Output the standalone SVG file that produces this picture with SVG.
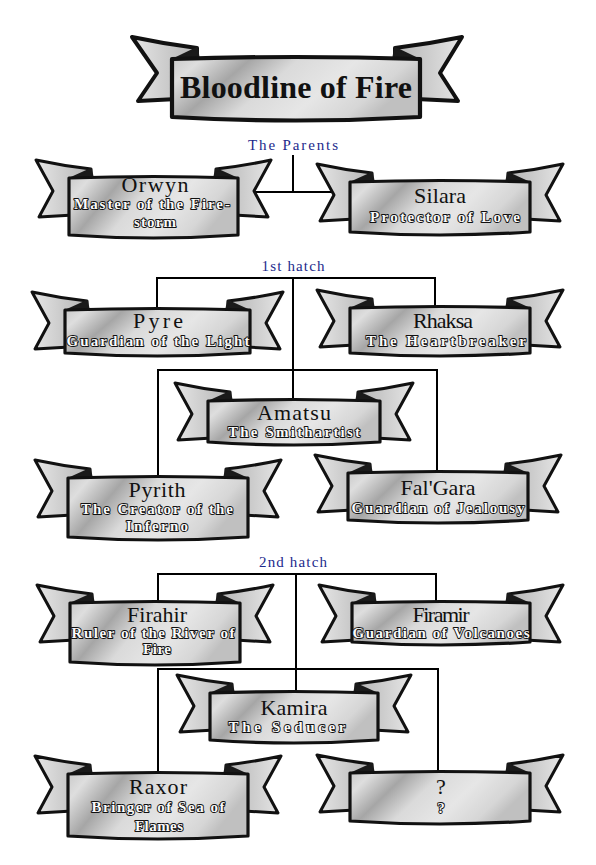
<svg xmlns="http://www.w3.org/2000/svg" width="596" height="865" viewBox="0 0 596 865">
<defs>
<linearGradient id="gp" x1="0" y1="0" x2="1" y2="0.3">
<stop offset="0" stop-color="#c9c9c9"/>
<stop offset="0.12" stop-color="#dedede"/>
<stop offset="0.3" stop-color="#a6a6a6"/>
<stop offset="0.48" stop-color="#dadada"/>
<stop offset="0.7" stop-color="#e6e6e6"/>
<stop offset="0.9" stop-color="#d6d6d6"/>
<stop offset="1" stop-color="#c0c0c0"/>
</linearGradient>
<linearGradient id="gl" x1="0" y1="0" x2="1" y2="0">
<stop offset="0" stop-color="#e6e6e6"/>
<stop offset="1" stop-color="#b4b4b4"/>
</linearGradient>
<linearGradient id="gr" x1="1" y1="0" x2="0" y2="0">
<stop offset="0" stop-color="#e6e6e6"/>
<stop offset="1" stop-color="#b4b4b4"/>
</linearGradient>
<style>
.tl{fill:url(#gl);stroke:#111;stroke-width:3;stroke-linejoin:round}
.tr{fill:url(#gr);stroke:#111;stroke-width:3;stroke-linejoin:round}
.fold{fill:#1a1a1a;stroke:#1a1a1a;stroke-width:2;stroke-linejoin:round}
.panel{fill:url(#gp);stroke:#111;stroke-width:3.2;stroke-linejoin:round}
.big .tl,.big .tr{stroke-width:4}
.big .panel{stroke-width:4.2}
.title{font-family:"Liberation Serif","DejaVu Serif",serif;font-weight:bold;font-size:32px;fill:#111;text-anchor:middle}
.name{font-family:"Liberation Serif","DejaVu Serif",serif;font-size:22px;fill:#111;text-anchor:middle}
.sub{font-family:"Liberation Serif","DejaVu Serif",serif;font-weight:bold;font-size:15px;fill:#fafafa;stroke:#111;stroke-width:1.9;paint-order:stroke;stroke-linejoin:round;text-anchor:middle}
.sect{font-family:"Liberation Serif","DejaVu Serif",serif;font-size:15px;fill:#1c2a8c;text-anchor:middle}
.conn{fill:none;stroke:#000;stroke-width:2}
</style>
</defs>
<rect width="596" height="865" fill="#fff"/>

<g id="connectors" class="conn">
<path d="M293,155 V192 M240,192 H350"/>
<path d="M157,310 V278 H435 V308 M293,278 V401"/>
<path d="M158,478 V370 H437 V473"/>
<path d="M158,603 V574 H436 V603 M296,574 V693"/>
<path d="M158,774 V669 H438 V773"/>
</g>

<g id="labels">
<text class="sect" x="293" y="150" textLength="90">The Parents</text>
<text class="sect" x="293" y="271" textLength="63">1st hatch</text>
<text class="sect" x="293" y="567" textLength="68">2nd hatch</text>
</g>

<g id="title" class="big">
<path class="tl" d="M132,37 Q165,44 197,48 L197,98 L138,101 L157,73 Z"/>
<path class="tr" d="M462,37 Q428,44 395,48 L395,98 L458,101 L440,73 Z"/>
<path class="fold" d="M172,60 L197,48 L199,60 Z M420,60 L395,48 L393,60 Z"/>
<path class="panel" d="M172,59 Q296,55 420,59 L420,117 Q296,124 172,117 Z"/>
<text class="title" x="296" y="98" textLength="232">Bloodline of Fire</text>
</g>

<g id="orwyn">
<path class="tl" d="M36,160 Q64,166 91,169 L91,214 L39,217 L53,191 Z"/>
<path class="tr" d="M271,160 Q243,166 216,169 L216,214 L268,217 L254,191 Z"/>
<path class="fold" d="M69,179 L91,169 L93,179 Z M238,179 L216,169 L214,179 Z"/>
<path class="panel" d="M69,178 Q153.5,175 238,178 L238,235 Q153.5,241 69,235 Z"/>
<text class="name" x="155" y="192" textLength="67">Orwyn</text>
<text class="sub" x="152" y="209" textLength="156">Master of the Fire-</text>
<text class="sub" x="155" y="227" textLength="42">storm</text>
</g>

<g id="silara">
<path class="tl" d="M317,164 Q345,170 372,173 L372,218 L320,221 L334,195 Z"/>
<path class="tr" d="M563,164 Q535,170 508,173 L508,218 L560,221 L546,195 Z"/>
<path class="fold" d="M350,183 L372,173 L374,183 Z M530,183 L508,173 L506,183 Z"/>
<path class="panel" d="M350,182 Q440,179 530,182 L530,232 Q440,238 350,232 Z"/>
<text class="name" x="440" y="203" textLength="52">Silara</text>
<text class="sub" x="445" y="222" textLength="150">Protector of Love</text>
</g>

<g id="pyre">
<path class="tl" d="M32,292 Q60,298 87,301 L87,346 L35,349 L49,323 Z"/>
<path class="tr" d="M283,292 Q255,298 228,301 L228,346 L280,349 L266,323 Z"/>
<path class="fold" d="M65,311 L87,301 L89,311 Z M250,311 L228,301 L226,311 Z"/>
<path class="panel" d="M65,310 Q157.5,307 250,310 L250,353 Q157.5,359 65,353 Z"/>
<text class="name" x="158" y="328" textLength="50">Pyre</text>
<text class="sub" x="158" y="346" textLength="183">Guardian of the Light</text>
</g>

<g id="rhaksa">
<path class="tl" d="M317,290 Q345,296 372,299 L372,344 L320,347 L334,321 Z"/>
<path class="tr" d="M563,290 Q535,296 508,299 L508,344 L560,347 L546,321 Z"/>
<path class="fold" d="M350,309 L372,299 L374,309 Z M530,309 L508,299 L506,309 Z"/>
<path class="panel" d="M350,308 Q440,305 530,308 L530,353 Q440,359 350,353 Z"/>
<text class="name" x="443" y="328" textLength="60">Rhaksa</text>
<text class="sub" x="446" y="346" textLength="160">The Heartbreaker</text>
</g>

<g id="amatsu">
<path class="tl" d="M175,383 Q203,389 230,392 L230,437 L178,440 L192,414 Z"/>
<path class="tr" d="M413,383 Q385,389 358,392 L358,437 L410,440 L396,414 Z"/>
<path class="fold" d="M208,402 L230,392 L232,402 Z M380,402 L358,392 L356,402 Z"/>
<path class="panel" d="M208,401 Q294,398 380,401 L380,442 Q294,448 208,442 Z"/>
<text class="name" x="294" y="420" textLength="74">Amatsu</text>
<text class="sub" x="294" y="437" textLength="132">The Smithartist</text>
</g>

<g id="pyrith">
<path class="tl" d="M35,460 Q63,466 90,469 L90,514 L38,517 L52,491 Z"/>
<path class="tr" d="M281,460 Q253,466 226,469 L226,514 L278,517 L264,491 Z"/>
<path class="fold" d="M68,479 L90,469 L92,479 Z M248,479 L226,469 L224,479 Z"/>
<path class="panel" d="M68,478 Q158,475 248,478 L248,537 Q158,543 68,537 Z"/>
<text class="name" x="157" y="497" textLength="57">Pyrith</text>
<text class="sub" x="157" y="514" textLength="152">The Creator of the</text>
<text class="sub" x="157" y="531" textLength="62">Inferno</text>
</g>

<g id="falgara">
<path class="tl" d="M315,455 Q343,461 370,464 L370,509 L318,512 L332,486 Z"/>
<path class="tr" d="M561,455 Q533,461 506,464 L506,509 L558,512 L544,486 Z"/>
<path class="fold" d="M348,474 L370,464 L372,474 Z M528,474 L506,464 L504,474 Z"/>
<path class="panel" d="M348,473 Q438,470 528,473 L528,520 Q438,526 348,520 Z"/>
<text class="name" x="438" y="495" textLength="75">Fal'Gara</text>
<text class="sub" x="438" y="513" textLength="173">Guardian of Jealousy</text>
</g>

<g id="firahir">
<path class="tl" d="M37,585 Q65,591 92,594 L92,639 L40,642 L54,616 Z"/>
<path class="tr" d="M273,585 Q245,591 218,594 L218,639 L270,642 L256,616 Z"/>
<path class="fold" d="M70,604 L92,594 L94,604 Z M240,604 L218,594 L216,604 Z"/>
<path class="panel" d="M70,603 Q155,600 240,603 L240,662 Q155,668 70,662 Z"/>
<text class="name" x="157" y="622" textLength="60">Firahir</text>
<text class="sub" x="153" y="638" textLength="163">Ruler of the River of</text>
<text class="sub" x="157" y="654" textLength="28">Fire</text>
</g>

<g id="firamir">
<path class="tl" d="M319,585 Q347,591 374,594 L374,639 L322,642 L336,616 Z"/>
<path class="tr" d="M563,585 Q535,591 508,594 L508,639 L560,642 L546,616 Z"/>
<path class="fold" d="M352,604 L374,594 L376,604 Z M530,604 L508,594 L506,604 Z"/>
<path class="panel" d="M352,603 Q441,600 530,603 L530,642 Q441,648 352,642 Z"/>
<text class="name" x="441" y="622" textLength="57">Firamir</text>
<text class="sub" x="441" y="638" textLength="177">Guardian of Volcanoes</text>
</g>

<g id="kamira">
<path class="tl" d="M177,675 Q205,681 232,684 L232,729 L180,732 L194,706 Z"/>
<path class="tr" d="M411,675 Q383,681 356,684 L356,729 L408,732 L394,706 Z"/>
<path class="fold" d="M210,694 L232,684 L234,694 Z M378,694 L356,684 L354,694 Z"/>
<path class="panel" d="M210,693 Q294,690 378,693 L378,740 Q294,746 210,740 Z"/>
<text class="name" x="294" y="715" textLength="67">Kamira</text>
<text class="sub" x="287" y="732" textLength="117">The Seducer</text>
</g>

<g id="raxor">
<path class="tl" d="M35,756 Q63,762 90,765 L90,810 L38,813 L52,787 Z"/>
<path class="tr" d="M281,756 Q253,762 226,765 L226,810 L278,813 L264,787 Z"/>
<path class="fold" d="M68,775 L90,765 L92,775 Z M248,775 L226,765 L224,775 Z"/>
<path class="panel" d="M68,774 Q158,771 248,774 L248,836 Q158,842 68,836 Z"/>
<text class="name" x="158" y="794" textLength="58">Raxor</text>
<text class="sub" x="158" y="812" textLength="133">Bringer of Sea of</text>
<text class="sub" x="159" y="831" textLength="48">Flames</text>
</g>

<g id="unknown">
<path class="tl" d="M317,755 Q345,761 372,764 L372,809 L320,812 L334,786 Z"/>
<path class="tr" d="M563,755 Q535,761 508,764 L508,809 L560,812 L546,786 Z"/>
<path class="fold" d="M350,774 L372,764 L374,774 Z M530,774 L508,764 L506,774 Z"/>
<path class="panel" d="M350,773 Q440,770 530,773 L530,821 Q440,827 350,821 Z"/>
<text class="name" x="441" y="794">?</text>
<text class="sub" x="441" y="813">?</text>
</g>
</svg>
